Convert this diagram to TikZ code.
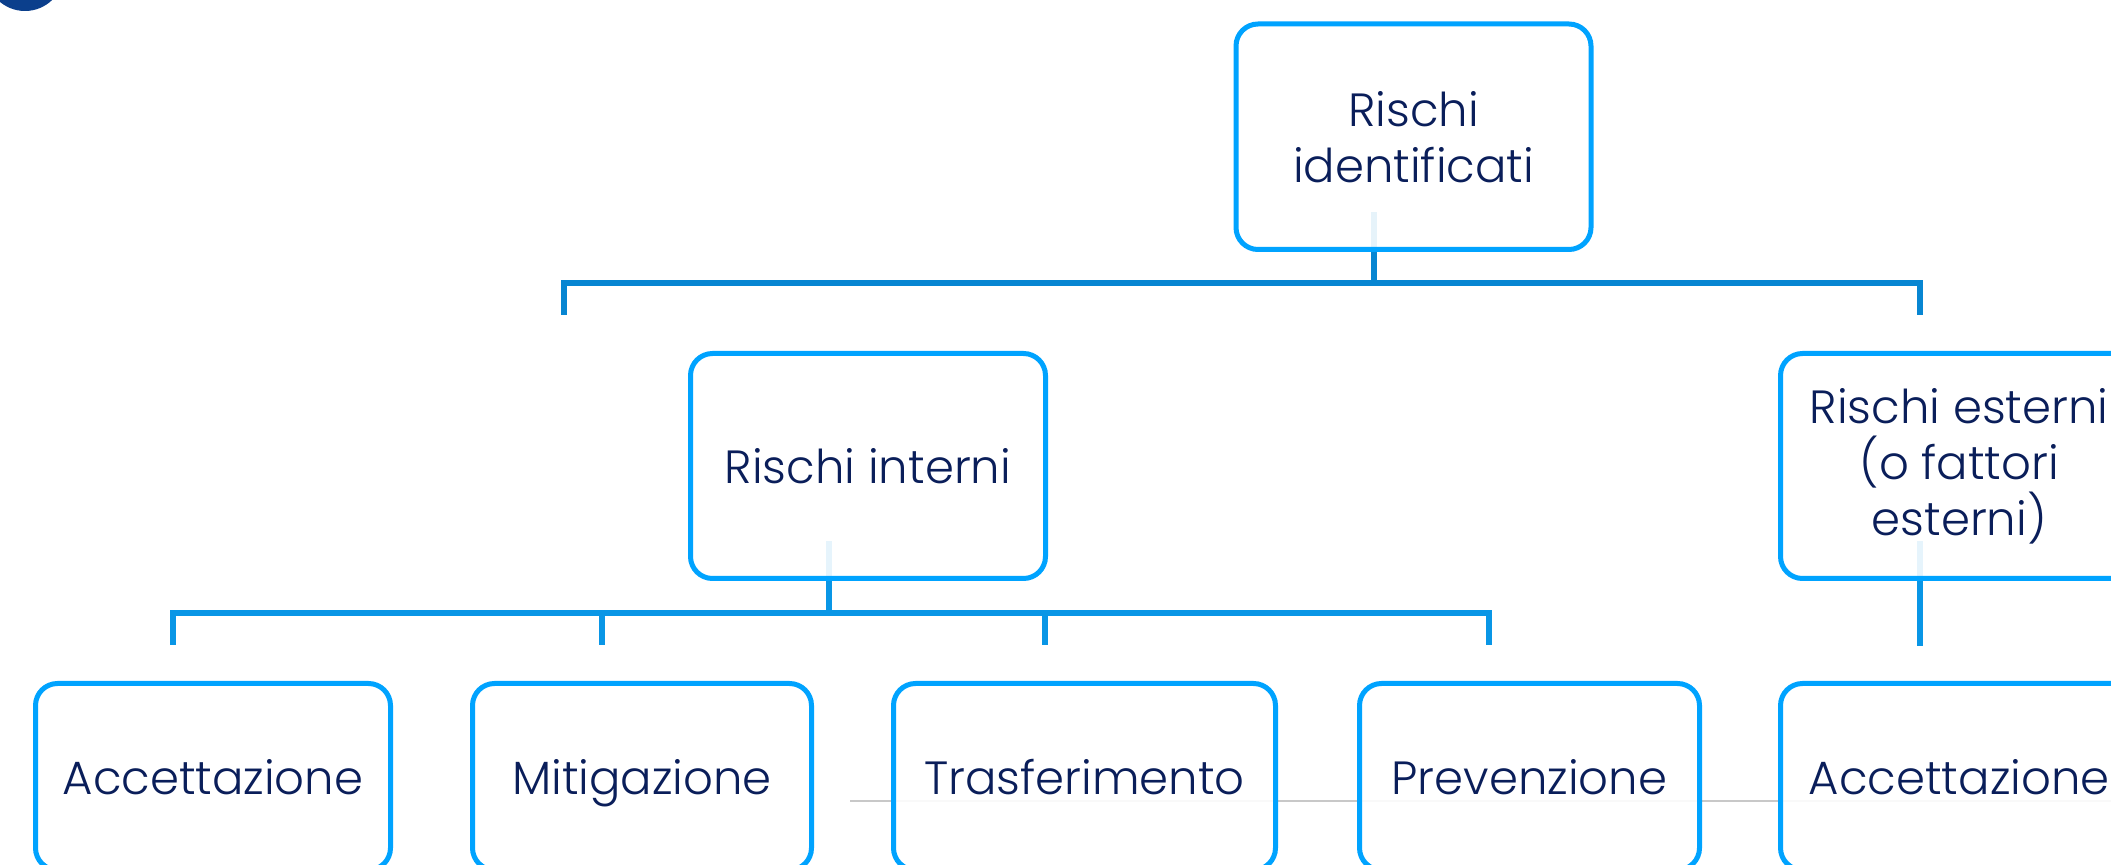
\documentclass[tikz,border=0pt]{standalone}
\usepackage{fontspec}
\setmainfont{Poppins}[UprightFont=* Light]
\usetikzlibrary{calc}
\definecolor{boxblue}{HTML}{00A3FF}
\definecolor{connA}{HTML}{0786D2}
\definecolor{connB}{HTML}{0996E6}
\definecolor{navy}{HTML}{0A1E5A}
\definecolor{dotblue}{HTML}{0B3F8C}
\definecolor{faintgray}{HTML}{C8C8C8}
\pgfdeclarelayer{bg}
\pgfsetlayers{bg,main}
\begin{document}
\begin{tikzpicture}[x=0.5pt,y=-0.5pt,
  box/.style 2 args={draw=boxblue, line width=2.5pt, rounded corners=11pt,
    fill=white, fill opacity=0.9, text opacity=1, text=navy, align=center,
    inner sep=0pt, minimum width=#1*0.5pt, minimum height=#2*0.5pt,
    font=\fontsize{23.3}{28}\selectfont},
  oneline/.style={text depth=0pt},
  linkA/.style={draw=connA, line width=2.6pt, line join=miter},
  linkB/.style={draw=connB, line width=2.6pt, line join=miter},
  guide/.style={draw=faintgray, line width=0.75pt}]
\useasboundingbox (0,0) rectangle (2111,865);
\clip (0,0) rectangle (2111,865);
\fill[dotblue] (25,-28) circle[radius=39];
% boxes
\node[box={355}{225.5}] (top) at (1413.5,136.75) {Rischi\\identificati};
\node[box={355}{225}, oneline] (rint) at (868,466) {Rischi interni};
\node[box={357.5}{225}] (rest) at (1959.25,466) {Rischi esterni\\(o fattori\\esterni)};
\node[box={355}{186.5}, oneline] (acc) at (213,776.75) {Accettazione};
\node[box={339}{186.5}, oneline] (mit) at (642,776.75) {Mitigazione};
\node[box={382}{186.5}, oneline] (tra) at (1084.5,776.75) {Trasferimento};
\node[box={340}{186.5}, oneline] (pre) at (1529.5,776.75) {Prevenzione};
\node[box={357.5}{186.5}, oneline] (acc2) at (1959.25,776.75) {Accettazione};
% connector points
\coordinate (tj) at (1374,283);
\coordinate (tl) at (564,315);
\coordinate (tr) at (1920,315);
\coordinate (lj) at (829,613);
\coordinate (d1) at (173,645);
\coordinate (d2) at (602,645);
\coordinate (d3) at (1045,645);
\coordinate (d4) at (1489,645);
\coordinate (ej) at (1920,646);
\coordinate (g1) at (850,801);
\coordinate (g2) at (2111,801);
\begin{pgfonlayer}{bg}
  \draw[guide] (g1) -- (g2);
  \draw[linkA] ($(top.south -| tj)+(0,-40)$) -- (tj);
  \draw[linkA] (tl) -- (tl |- tj) -- (tr |- tj) -- (tr);
  \draw[linkB] ($(rint.south -| lj)+(0,-40)$) -- (lj);
  \draw[linkB] (d1) -- (d1 |- lj) -- (d4 |- lj) -- (d4);
  \draw[linkB] (d2 |- lj) -- (d2);
  \draw[linkB] (d3 |- lj) -- (d3);
  \draw[linkB] ($(rest.south -| ej)+(0,-40)$) -- (ej);
\end{pgfonlayer}
\end{tikzpicture}
\end{document}
